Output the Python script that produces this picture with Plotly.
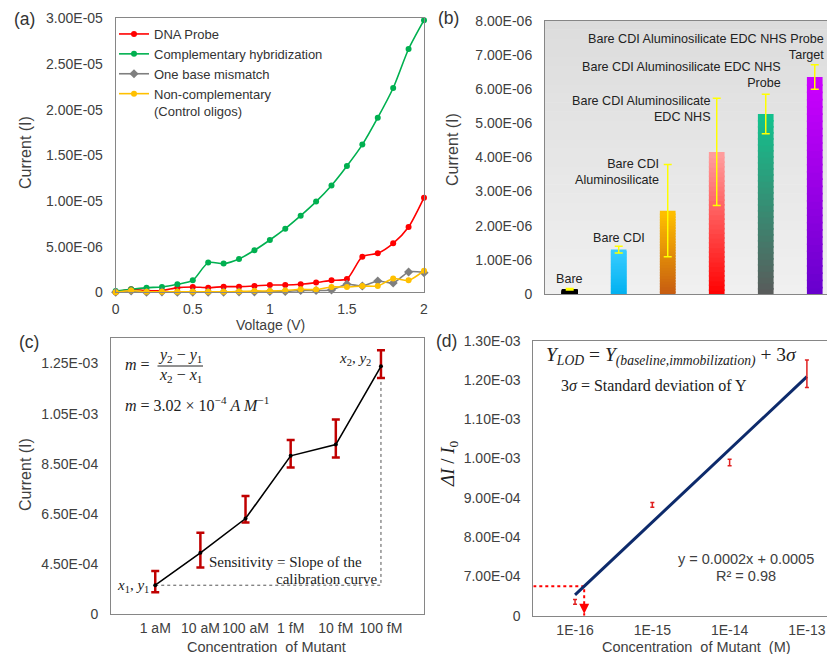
import numpy as np
import plotly.graph_objects as go

W, H = 827, 654
SANS = "Liberation Sans, Arial, sans-serif"
SERIF = "Liberation Serif, Times New Roman, serif"
TXT = "#404040"

# ---------------- Panel (a) data ----------------
voltage = [0.0, 0.1, 0.2, 0.3, 0.4, 0.5, 0.6, 0.7, 0.8, 0.9, 1.0,
           1.1, 1.2, 1.3, 1.4, 1.5, 1.6, 1.7, 1.8, 1.9, 2.0]
dna_probe = [0.0e-6, 0.33e-6, 0.18e-6, 0.18e-6, 0.51e-6, 0.58e-6, 0.51e-6, 0.62e-6, 0.62e-6, 0.69e-6, 0.80e-6,
             0.80e-6, 0.88e-6, 1.06e-6, 1.31e-6, 1.46e-6, 3.90e-6, 4.27e-6, 5.36e-6, 7.15e-6, 10.36e-6]
complementary = [0.15e-6, 0.33e-6, 0.51e-6, 0.58e-6, 0.88e-6, 1.31e-6, 3.25e-6, 3.14e-6, 3.65e-6, 4.60e-6, 5.73e-6,
                 6.97e-6, 8.39e-6, 9.93e-6, 11.70e-6, 13.83e-6, 16.17e-6, 19.12e-6, 22.37e-6, 26.64e-6, 29.80e-6]
mismatch = [0.0e-6, 0.15e-6, 0.0e-6, 0.05e-6, 0.0e-6, 0.02e-6, 0.02e-6, 0.02e-6, 0.05e-6, 0.05e-6, 0.08e-6,
            0.10e-6, 0.20e-6, 0.20e-6, 0.25e-6, 0.88e-6, 0.69e-6, 1.24e-6, 1.02e-6, 2.23e-6, 2.15e-6]
noncomp = [0.0e-6, 0.20e-6, 0.05e-6, 0.05e-6, 0.05e-6, 0.05e-6, 0.05e-6, 0.05e-6, 0.10e-6, 0.15e-6, 0.15e-6,
           0.20e-6, 0.33e-6, 0.30e-6, 0.58e-6, 0.58e-6, 0.69e-6, 0.69e-6, 1.50e-6, 1.31e-6, 2.37e-6]
a_series_names = ["DNA Probe", "Complementary hybridization", "One base mismatch",
                  "Non-complementary<br>(Control oligos)"]
a_xticks = [0, 0.5, 1, 1.5, 2]
a_xticktext = ["0", "0.5", "1", "1.5", "2"]
a_yticks = [0, 5e-6, 1e-5, 1.5e-5, 2e-5, 2.5e-5, 3e-5]
a_yticktext = ["0", "5.00E-06", "1.00E-05", "1.50E-05", "2.00E-05", "2.50E-05", "3.00E-05"]

# ---------------- Panel (b) data ----------------
b_labels = ["Bare", "Bare CDI", "Bare CDI<br>Aluminosilicate", "Bare CDI Aluminosilicate<br>EDC NHS",
            "Bare CDI Aluminosilicate EDC NHS<br>Probe", "Bare CDI Aluminosilicate EDC NHS Probe<br>Target"]
b_values = [0.14e-6, 1.30e-6, 2.44e-6, 4.16e-6, 5.27e-6, 6.35e-6]
b_errors = [0.02e-6, 0.10e-6, 1.35e-6, 1.57e-6, 0.58e-6, 0.36e-6]
b_yticks = [0, 1e-6, 2e-6, 3e-6, 4e-6, 5e-6, 6e-6, 7e-6, 8e-6]
b_yticktext = ["0", "1.00E-06", "2.00E-06", "3.00E-06", "4.00E-06", "5.00E-06", "6.00E-06", "7.00E-06", "8.00E-06"]

# ---------------- Panel (c) data ----------------
c_categories = ["1 aM", "10 aM", "100 aM", "1 fM", "10 fM", "100 fM"]
c_current = [3.66e-4, 4.95e-4, 6.32e-4, 8.82e-4, 9.27e-4, 1.239e-3]
c_err_plus = [5.7e-5, 8.0e-5, 9.0e-5, 6.3e-5, 1.0e-4, 6.4e-5]
c_err_minus = [2.8e-5, 5.8e-5, 1.6e-5, 4.6e-5, 5.2e-5, 4.7e-5]
c_yticks = [2.5e-4, 4.5e-4, 6.5e-4, 8.5e-4, 1.05e-3, 1.25e-3]
c_yticktext = ["0", "4.50E-04", "6.50E-04", "8.50E-04", "1.05E-03", "1.25E-03"]

# ---------------- Panel (d) data ----------------
d_conc = [1e-16, 1e-15, 1e-14, 1e-13]
d_ratio = [6.35e-4, 8.82e-4, 9.90e-4, 1.216e-3]
d_err = [6e-6, 6e-6, 8e-6, 3.5e-5]
d_lod = 6.75e-4
d_xticktext = ["1E-16", "1E-15", "1E-14", "1E-13"]
d_yticks = [6e-4, 7e-4, 8e-4, 9e-4, 1.0e-3, 1.1e-3, 1.2e-3, 1.3e-3]
d_yticktext = ["0", "7.00E-04", "8.00E-04", "9.00E-04", "1.00E-03", "1.10E-03", "1.20E-03", "1.30E-03"]

# ---------------- styles ----------------
a_colors = ["#FF0000", "#00B050", "#7F7F7F", "#FFC000"]
a_symbols = ["circle", "circle", "diamond", "circle"]
b_top = ["#000000", "#38CCFF", "#FFC000", "#FF9F9F", "#12C28E", "#CC00FF"]
b_bottom = ["#000000", "#00B0F0", "#C55A11", "#FF0000", "#5A5A5A", "#6600CC"]


def P(x, y):
    return x / W, 1 - y / H


def mix(c1, c2, t):
    a = [int(c1[i:i + 2], 16) for i in (1, 3, 5)]
    b = [int(c2[i:i + 2], 16) for i in (1, 3, 5)]
    return "rgb(%d,%d,%d)" % tuple(round(a[i] + (b[i] - a[i]) * t) for i in range(3))


fig = go.Figure()

# ---- (a) lines ----
for name, ys, col, sym in zip(a_series_names, [dna_probe, complementary, mismatch, noncomp], a_colors, a_symbols):
    fig.add_trace(go.Scatter(x=voltage, y=ys, name=name, mode="lines+markers",
                             line=dict(color=col, width=1.6, shape="spline", smoothing=0.7),
                             marker=dict(color=col, size=6 if sym == "circle" else 7, symbol=sym),
                             xaxis="x", yaxis="y", cliponaxis=False))

# ---- (b) gradient bars: stacked, slightly overlapping slices ----
b_x = list(range(len(b_values)))
N = 30
OV = 0.05e-6
for k in range(N):
    t = (k + 0.5) / N
    bases = [max(0.0, v * k / N - OV) for v in b_values]
    tops = [v * (k + 1) / N for v in b_values]
    fig.add_trace(go.Bar(x=b_x, y=[tp - bs for tp, bs in zip(tops, bases)], base=bases,
                         width=0.32, marker=dict(color=[mix(bo, tp, t) for bo, tp in zip(b_bottom, b_top)],
                                                 line=dict(width=0)),
                         xaxis="x2", yaxis="y2", showlegend=False, hoverinfo="skip"))
fig.add_trace(go.Scatter(x=b_x, y=b_values, mode="markers",
                         marker=dict(size=2, color="rgba(0,0,0,0)"),
                         error_y=dict(type="data", array=b_errors, color="#FFFF00", thickness=1.5, width=4),
                         xaxis="x2", yaxis="y2", showlegend=False))

# ---- (c) calibration ----
c_x = list(range(len(c_categories)))
fig.add_trace(go.Scatter(x=[c_x[0], c_x[-1], c_x[-1]], y=[c_current[0], c_current[0], c_current[-1]],
                         mode="lines", line=dict(color="#555555", width=1, dash="dot"),
                         xaxis="x3", yaxis="y3", showlegend=False, hoverinfo="skip"))
fig.add_trace(go.Scatter(x=c_x, y=c_current, mode="lines+markers",
                         line=dict(color="black", width=1.6),
                         marker=dict(color="black", size=4),
                         error_y=dict(type="data", symmetric=False, array=c_err_plus, arrayminus=c_err_minus,
                                      color="#C00000", thickness=2.5, width=4),
                         xaxis="x3", yaxis="y3", showlegend=False))

# ---- (d) LOD ----
d_xrange = [-16.54, -12.74]
d_yrange = [6e-4, 1.3e-3]
lx = np.log10(d_conc)
slope, intercept = np.polyfit(lx, d_ratio, 1)
fit_x = [d_conc[0], d_conc[-1]]
fit_y = [slope * lx[0] + intercept, slope * lx[-1] + intercept]
lod_logx = (d_lod - intercept) / slope
lod_x = 10 ** lod_logx

fig.add_trace(go.Scatter(x=[10 ** d_xrange[0], lod_x, lod_x], y=[d_lod, d_lod, d_yrange[0]],
                         mode="lines", line=dict(color="#FF0000", width=2, dash="dot"),
                         xaxis="x4", yaxis="y4", showlegend=False, hoverinfo="skip"))
fig.add_trace(go.Scatter(x=fit_x, y=fit_y, mode="lines", line=dict(color="#0D2A6B", width=3),
                         xaxis="x4", yaxis="y4", showlegend=False))
fig.add_trace(go.Scatter(x=d_conc, y=d_ratio, mode="markers",
                         marker=dict(size=2, color="rgba(0,0,0,0)"),
                         error_y=dict(type="data", array=d_err, color="#E02020", thickness=1.5, width=2),
                         xaxis="x4", yaxis="y4", showlegend=False))

# ---------------- axes ----------------
LINE = "#868686"


def ax(**kw):
    base = dict(showgrid=False, zeroline=False, showline=True, linecolor=LINE, linewidth=1, mirror=True,
                ticks="outside", tickcolor="rgba(0,0,0,0)", automargin=False,
                tickfont=dict(family=SANS, size=14, color=TXT))
    base.update(kw)
    return base


fig.update_layout(
    width=W, height=H, margin=dict(l=0, r=0, t=0, b=0, pad=0, autoexpand=False), autosize=False,
    paper_bgcolor="white", plot_bgcolor="white", barmode="overlay",
    font=dict(family=SANS, color=TXT),
    xaxis=ax(domain=[115.7 / W, 424 / W], range=[0, 2], tickvals=a_xticks, ticktext=a_xticktext,
             ticklen=4, tickangle=0, anchor="y"),
    yaxis=ax(domain=[1 - 292.3 / H, 1 - 18.3 / H], range=[0, 3e-5], tickvals=a_yticks, ticktext=a_yticktext,
             ticklen=9, anchor="x"),
    xaxis2=ax(domain=[545 / W, 1.0], range=[-0.504, 5.25], showticklabels=False, ticks="", anchor="y2"),
    yaxis2=ax(domain=[1 - 294 / H, 1 - 20.7 / H], range=[0, 8e-6], tickvals=b_yticks, ticktext=b_yticktext,
              ticklen=9, anchor="x2"),
    xaxis3=ax(domain=[111 / W, 424.3 / W], range=[-0.98, 5.96], tickvals=c_x, ticktext=c_categories,
              ticklen=1, tickangle=0, anchor="y3"),
    yaxis3=ax(domain=[1 - 614.3 / H, 1 - 337.5 / H], range=[2.5e-4, 1.354e-3], tickvals=c_yticks,
              ticktext=c_yticktext, ticklen=9, anchor="x3"),
    xaxis4=ax(domain=[533.3 / W, 1.0], type="log", range=d_xrange, tickvals=d_conc, ticktext=d_xticktext,
              ticklen=1, tickangle=0, anchor="y4"),
    yaxis4=ax(domain=[1 - 615.7 / H, 1 - 340.7 / H], range=d_yrange, tickvals=d_yticks, ticktext=d_yticktext,
              ticklen=9, anchor="x4"),
    legend=dict(x=114 / W, y=1 - 19 / H, xanchor="left", yanchor="top", bgcolor="rgba(0,0,0,0)",
                font=dict(family=SANS, size=13, color="#333333"), valign="top", tracegroupgap=0),
)

# panel (b) background gradient bands
shapes = []
NB = 30
for i in range(NB):
    shapes.append(dict(type="rect", xref="x2 domain", yref="y2 domain", x0=0, x1=1,
                       y0=i / NB, y1=(i + 1) / NB + 0.002, line=dict(width=0),
                       fillcolor=mix("#F0F0F0", "#DCDCDC", (i + 0.5) / NB), layer="below"))
# fraction bar in panel (c)
fx0, fy = P(157.5, 366)
fx1, _ = P(203, 366)
shapes.append(dict(type="line", xref="paper", yref="paper", x0=fx0, x1=fx1, y0=fy, y1=fy,
                   line=dict(color="#222222", width=1)))
fig.update_layout(shapes=shapes)

# arrow head of LOD line
fig.add_annotation(x=lod_logx, y=d_yrange[0], xref="x4", yref="y4", ax=0, ay=-9, showarrow=True,
                   arrowhead=2, arrowsize=1, arrowwidth=2, arrowcolor="#FF0000", text="", standoff=2)

anns = []


def A(x, y, text, size=14, family=SANS, xanchor="center", angle=0, color=TXT, align="center"):
    px_, py_ = P(x, y)
    anns.append(dict(x=px_, y=py_, xref="paper", yref="paper", text=text, showarrow=False,
                     xanchor=xanchor, yanchor="middle", textangle=angle, align=align,
                     font=dict(family=family, size=size, color=color)))


# panel labels
A(24, 19.5, "(a)", 17.5, color="#333333")
A(449, 18, "(b)", 17.5, color="#333333")
A(29, 342, "(c)", 17.5, color="#333333")
A(446.5, 341, "(d)", 17.5, color="#333333")
# axis titles
A(25, 153, "Current (I)", 16, angle=-90)
A(270, 324.5, "Voltage (V)", 14)
A(453, 150, "Current (I)", 16, angle=-90)
A(25, 475, "Current (I)", 16, angle=-90)
A(266.7, 646.5, "Concentration  of Mutant", 14.5)
A(449, 463, "<i>ΔI</i> / <i>I</i><sub>0</sub>", 19, family=SERIF, angle=-90, color="#222222")
A(696, 646.5, "Concentration  of Mutant  (M)", 14.5)

# panel (b) bar labels
b_label_pos = [(569.7, 279, "center"), (619, 237.7, "center"), (660.7, 172, "right"),
               (712.7, 108.7, "right"), (783.3, 75.5, "right"), (826, 47, "right")]
for lab, (x, y, anc) in zip(b_labels, b_label_pos):
    A(x, y, lab, 12.6, xanchor=anc, align="right" if anc == "right" else "center", color="#222222")

# panel (c) math text
M = "#222222"
A(122.7, 364.5, "<i>m</i> =", 16, family=SERIF, xanchor="left", color=M)
A(180, 355.5, "<i>y</i><sub>2</sub> − <i>y</i><sub>1</sub>", 16, family=SERIF, color=M)
A(180, 375, "<i>x</i><sub>2</sub> − <i>x</i><sub>1</sub>", 16, family=SERIF, color=M)
A(122.7, 403.5, "<i>m</i> = 3.02 × 10<sup>−4</sup> <i>A M</i><sup>−1</sup>", 16, family=SERIF,
  xanchor="left", color=M)
A(373, 358.5, "<i>x</i><sub>2</sub>, <i>y</i><sub>2</sub>", 15, family=SERIF, xanchor="right", color=M)
A(150.5, 585.5, "<i>x</i><sub>1</sub>, <i>y</i><sub>1</sub>", 15, family=SERIF, xanchor="right", color=M)
A(207, 561.5, "Sensitivity = Slope of the", 15, family=SERIF, xanchor="left", color=M)
A(379.5, 579, "calibration curve", 15, family=SERIF, xanchor="right", color=M)

# panel (d) text
A(544, 357, "<i>Y</i><sub><i>LOD</i></sub> = <i>Y</i><sub><i>(baseline,immobilization)</i></sub> + 3<i>σ</i>",
  19.5, family=SERIF, xanchor="left", color=M)
A(559, 385, "3<i>σ</i> = Standard deviation of Y", 16, family=SERIF, xanchor="left", color=M)
A(746, 559, "y = 0.0002x + 0.0005", 14.5)
A(746, 576, "R² = 0.98", 14.5)

for a in anns:
    fig.add_annotation(**a)

fig.write_html("out.html", config={"displayModeBar": False},
               post_script="document.body.style.margin='0px';")
